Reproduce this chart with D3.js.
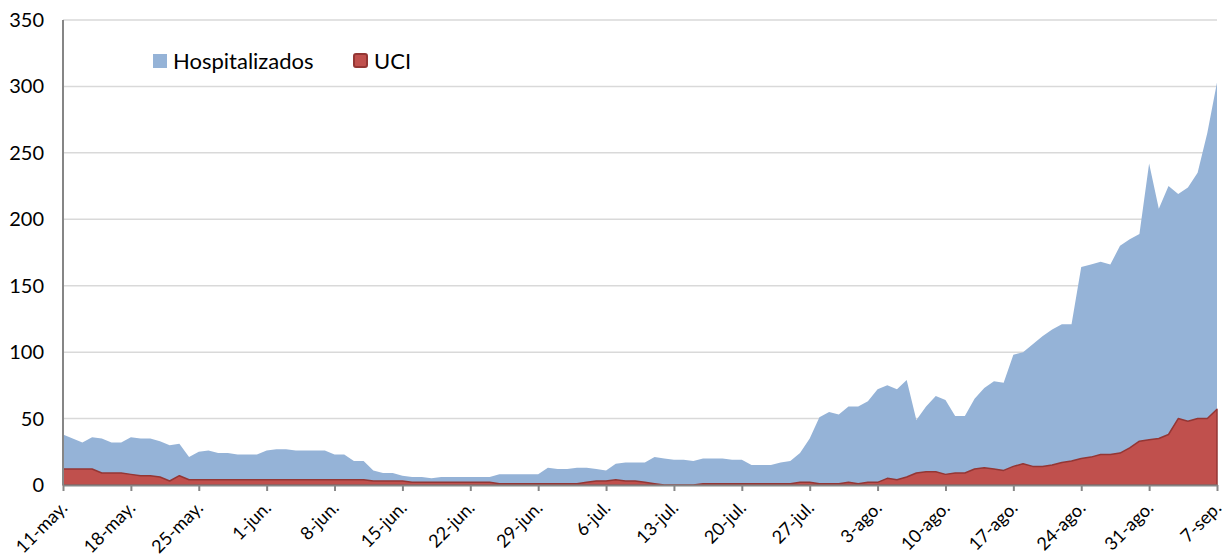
<!DOCTYPE html>
<html>
<head>
<meta charset="utf-8">
<script src="https://cdn.jsdelivr.net/npm/d3@7"></script>
<style>
  body { margin: 0; background: #fff; }
  svg { display: block; font-family: Lato, "Open Sans", sans-serif; }
</style>
</head>
<body>
<svg width="1228" height="558"></svg>
<script>
// daily series, 11 may -> 7 sep
var startDate = new Date(2020, 4, 11);
var hospitalizados = [
  38, 35, 32, 36, 35, 32, 32, 36, 35, 35, 33, 30, 31, 21, 25, 26, 24, 24, 23, 23,
  23, 26, 27, 27, 26, 26, 26, 26, 23, 23, 18, 18, 11, 9, 9, 7, 6, 6, 5, 6,
  6, 6, 6, 6, 6, 8, 8, 8, 8, 8, 13, 12, 12, 13, 13, 12, 11, 16, 17, 17,
  17, 21, 20, 19, 19, 18, 20, 20, 20, 19, 19, 15, 15, 15, 17, 18, 24, 35, 51, 55,
  53, 59, 59, 63, 72, 75, 72, 79, 49, 59, 67, 64, 52, 52, 65, 73, 78, 77, 98, 100,
  106, 112, 117, 121, 121, 164, 166, 168, 166, 180, 185, 189, 242, 208, 225, 219, 224, 235, 265, 303
];
var uci = [
  12, 12, 12, 12, 9, 9, 9, 8, 7, 7, 6, 3, 7, 4, 4, 4, 4, 4, 4, 4,
  4, 4, 4, 4, 4, 4, 4, 4, 4, 4, 4, 4, 3, 3, 3, 3, 2, 2, 2, 2,
  2, 2, 2, 2, 2, 1, 1, 1, 1, 1, 1, 1, 1, 1, 2, 3, 3, 4, 3, 3,
  2, 1, 0, 0, 0, 0, 1, 1, 1, 1, 1, 1, 1, 1, 1, 1, 2, 2, 1, 1,
  1, 2, 1, 2, 2, 5, 4, 6, 9, 10, 10, 8, 9, 9, 12, 13, 12, 11, 14, 16,
  14, 14, 15, 17, 18, 20, 21, 23, 23, 24, 28, 33, 34, 35, 38, 50, 48, 50, 50, 57
];
var monthNames = ['ene.', 'feb.', 'mar.', 'abr.', 'may.', 'jun.', 'jul.', 'ago.', 'sep.', 'oct.', 'nov.', 'dic.'];
var yTicks = [0, 50, 100, 150, 200, 250, 300, 350];
var seriesNames = ['Hospitalizados', 'UCI'];

var dates = hospitalizados.map((d, i) => d3.timeDay.offset(startDate, i));
var data = dates.map((d, i) => ({ date: d, h: hospitalizados[i], u: uci[i] }));

var svg = d3.select('svg');

var x = d3.scaleTime()
  .domain([dates[0], dates[dates.length - 1]])
  .range([63, 1217]);
var y = d3.scaleLinear().domain([0, 350]).range([485, 20]);

// gridlines
svg.append('g')
  .selectAll('line')
  .data(yTicks.slice(1))
  .enter()
  .append('line')
  .attr('x1', 63)
  .attr('x2', 1217)
  .attr('y1', d => y(d))
  .attr('y2', d => y(d))
  .style('stroke', '#d9d9d9')
  .style('stroke-width', 1.5);

// areas
var areaH = d3.area().x(d => x(d.date)).y0(y(0)).y1(d => y(d.h));
var areaU = d3.area().x(d => x(d.date)).y0(y(0)).y1(d => y(d.u));

svg.append('path')
  .datum(data)
  .attr('d', areaH)
  .style('fill', '#95b3d7');

svg.append('path')
  .datum(data)
  .attr('d', areaU)
  .style('fill', '#c0504d')
  .style('stroke', '#943634')
  .style('stroke-width', 1.5)
  .style('stroke-linejoin', 'round');

// y axis labels
svg.append('g')
  .selectAll('text')
  .data(yTicks)
  .enter()
  .append('text')
  .attr('x', 44)
  .attr('y', d => y(d) + 7)
  .attr('text-anchor', 'end')
  .style('font-size', '20px')
  .style('fill', '#000')
  .text(d => d);

svg.append('line')
  .attr('x1', 63).attr('x2', 63)
  .attr('y1', y(350)).attr('y2', y(0))
  .style('stroke', '#868686')
  .style('stroke-width', 2);

// x axis
var weekTicks = d3.timeDay.range(dates[0], d3.timeDay.offset(dates[dates.length - 1], 1), 7);

var xAxis = d3.axisBottom(x)
  .tickValues(weekTicks)
  .tickSize(6)
  .tickSizeOuter(0)
  .tickFormat(d => d.getDate() + '-' + monthNames[d.getMonth()]);

var gx = svg.append('g')
  .attr('transform', 'translate(0,' + y(0) + ')')
  .call(xAxis);

gx.select('.domain').style('stroke', '#868686').style('stroke-width', 2);
gx.selectAll('.tick line').style('stroke', '#868686').style('stroke-width', 2);
gx.selectAll('.tick text')
  .attr('text-anchor', 'end')
  .attr('dy', null)
  .attr('y', 0)
  .attr('transform', 'translate(5,24) rotate(-45)')
  .style('font-size', '18px')
  .style('font-family', 'Lato, "Open Sans", sans-serif')
  .style('fill', '#000');

// legend
var legend = svg.append('g');
legend.append('rect')
  .attr('x', 153).attr('y', 54)
  .attr('width', 14).attr('height', 14)
  .style('fill', '#95b3d7');
legend.append('text')
  .attr('x', 173).attr('y', 69)
  .style('font-size', '22px')
  .text(seriesNames[0]);
legend.append('rect')
  .attr('x', 354).attr('y', 54)
  .attr('width', 13).attr('height', 13)
  .attr('rx', 2)
  .style('fill', '#c0504d')
  .style('stroke', '#943634')
  .style('stroke-width', 2);
legend.append('text')
  .attr('x', 374).attr('y', 69)
  .style('font-size', '22px')
  .text(seriesNames[1]);
</script>
</body>
</html>
